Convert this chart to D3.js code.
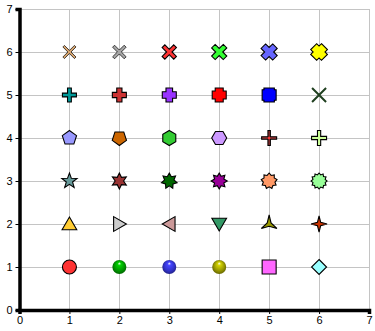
<!DOCTYPE html>
<html>
<head>
<meta charset="utf-8">
<script src="https://cdn.jsdelivr.net/npm/d3@7"></script>
<style>
  body { margin: 0; background: #fff; }
  svg text { font-family: "Liberation Sans", Arial, sans-serif; font-size: 11px; }
</style>
</head>
<body>
<div id="chart"></div>
<script>
// marker catalogue: one entry per point, read row by row from the top
const xValues = [1, 2, 3, 4, 5, 6,  1, 2, 3, 4, 5, 6,  1, 2, 3, 4, 5, 6,  1, 2, 3, 4, 5, 6,  1, 2, 3, 4, 5, 6,  1, 2, 3, 4, 5, 6];
const yValues = [6, 6, 6, 6, 6, 6,  5, 5, 5, 5, 5, 5,  4, 4, 4, 4, 4, 4,  3, 3, 3, 3, 3, 3,  2, 2, 2, 2, 2, 2,  1, 1, 1, 1, 1, 1];
const shapes = [
  'x1', 'x2', 'x3', 'x4', 'x5', 'x6',
  'plus1', 'plus2', 'plus3', 'plus4', 'plus5', 'xline',
  'pentUp', 'pentDown', 'hexV', 'hexH', 'thinCross', 'plusThin',
  'star5', 'star6', 'star7', 'star8', 'star9', 'star12',
  'triUp', 'triRight', 'triLeft', 'triDown', 'tristar', 'star4',
  'circle', 'sphere', 'sphere', 'sphere', 'square', 'diamond'
];
const colors = [
  '#d9a66f', '#a6a6a6', '#ff3333', '#33ff33', '#6666ff', '#ffff00',
  '#009999', '#cc3333', '#9933ff', '#ff0000', '#0000ff', '#1f3f1f',
  '#9999ff', '#cc6600', '#33cc33', '#cc99ff', '#993333', '#ccff99',
  '#669999', '#993333', '#006600', '#990099', '#ff9966', '#99ff99',
  '#ffcc33', '#cccccc', '#cc9999', '#339966', '#999900', '#cc3300',
  '#ff3333', '#009900', '#3333cc', '#999900', '#ff66ff', '#99ffff'
];
const xTicks = [0, 1, 2, 3, 4, 5, 6, 7];
const yTicks = [0, 1, 2, 3, 4, 5, 6, 7];

const width = 375, height = 331;
const margin = { top: 9, right: 6, bottom: 21, left: 19.5 };

const svg = d3.select('#chart').append('svg')
  .attr('width', width)
  .attr('height', height);

const x = d3.scaleLinear().domain([0, 7]).range([margin.left, width - margin.right]);
const y = d3.scaleLinear().domain([0, 7]).range([height - margin.bottom, margin.top]);

// grid
svg.append('g').selectAll('line').data(xTicks.slice(1)).enter().append('line')
  .attr('x1', (d) => Math.round(x(d)) + 0.5).attr('x2', (d) => Math.round(x(d)) + 0.5)
  .attr('y1', y(0)).attr('y2', y(7))
  .attr('stroke', '#c4c4c4');
svg.append('g').selectAll('line').data(yTicks.slice(1)).enter().append('line')
  .attr('y1', (d) => Math.round(y(d)) + 0.5).attr('y2', (d) => Math.round(y(d)) + 0.5)
  .attr('x1', x(0)).attr('x2', x(7))
  .attr('stroke', '#c4c4c4');

// axes
const fmt = d3.format('d');
const xAxis = svg.append('g')
  .attr('transform', `translate(0,${y(0)})`)
  .call(d3.axisBottom(x).tickValues(xTicks).tickFormat(fmt).tickSize(4).tickPadding(2));
const yAxis = svg.append('g')
  .attr('transform', `translate(${x(0)},0)`)
  .call(d3.axisLeft(y).tickValues(yTicks).tickFormat(fmt).tickSize(4).tickPadding(3));
[xAxis, yAxis].forEach((g) => {
  g.select('.domain').attr('stroke', '#000').attr('stroke-width', 3.5);
  g.selectAll('text').attr('fill', '#000').style('font-size', '11px');
  g.selectAll('.tick line').attr('stroke', '#000');
});

// gradients for the glossy balls
const defs = svg.append('defs');
colors.forEach((c, i) => {
  if (shapes[i] !== 'sphere') return;
  const g = defs.append('radialGradient').attr('id', 'ball' + i)
    .attr('cx', '50%').attr('cy', '50%').attr('r', '55%')
    .attr('fx', '50%').attr('fy', '22%');
  g.append('stop').attr('offset', '0%').attr('stop-color', '#ffffff');
  g.append('stop').attr('offset', '22%').attr('stop-color', d3.color(c).brighter(0.9));
  g.append('stop').attr('offset', '65%').attr('stop-color', c);
  g.append('stop').attr('offset', '100%').attr('stop-color', d3.color(c).darker(1.4));
});

const R = 7;
function poly(pts) { return 'M' + pts.map((p) => p[0].toFixed(2) + ',' + p[1].toFixed(2)).join('L') + 'Z'; }
function rotate(pts, a) {
  const c = Math.cos(a), s = Math.sin(a);
  return pts.map(([px, py]) => [px * c - py * s, px * s + py * c]);
}
function plus(a, r) {
  return [[-a, -r], [a, -r], [a, -a], [r, -a], [r, a], [a, a], [a, r], [-a, r], [-a, a], [-r, a], [-r, -a], [-a, -a]];
}
function star(n, outer, inner, start) {
  const pts = [];
  for (let k = 0; k < 2 * n; k++) {
    const rr = k % 2 ? inner : outer;
    const ang = start + k * Math.PI / n;
    pts.push([rr * Math.cos(ang), rr * Math.sin(ang)]);
  }
  return pts;
}
function ngon(n, r, start) { return star(n, r, r, start).filter((_, k) => k % 2 === 0); }
const up = -Math.PI / 2;
const diag = Math.PI / 4;

const shapePath = {
  x1: poly(rotate(plus(1.1, 8.2), diag)),
  x2: poly(rotate(plus(1.4, 8.2), diag)),
  x3: poly(rotate(plus(1.9, 8.2), diag)),
  x4: poly(rotate(plus(2.5, 8.2), diag)),
  x5: poly(rotate(plus(3.2, 8.2), diag)),
  x6: poly(rotate(plus(4.2, 7.6), diag)),
  plus1: poly(plus(1.9, 7)),
  plus2: poly(plus(2.6, 7)),
  plus3: poly(plus(3.3, 7)),
  plus4: poly(plus(4, 7)),
  plus5: poly(plus(5.2, 7)),
  xline: 'M-7,-7L7,7M-7,7L7,-7',
  pentUp: poly(ngon(5, 7.5, up)),
  pentDown: poly(ngon(5, 7.5, -up)),
  hexV: poly(ngon(6, 7.5, up)),
  hexH: poly(ngon(6, 7.5, 0)),
  thinCross: poly(plus(1.2, 7.5)),
  plusThin: poly(plus(1.6, 7.5)),
  star5: poly(star(5, 8, 3.3, up)),
  star6: poly(star(6, 8, 4.2, up)),
  star7: poly(star(7, 8, 4.8, up)),
  star8: poly(star(8, 8, 5, up)),
  star9: poly(star(9, 8, 5.9, up)),
  star12: poly(star(12, 8, 6.3, up)),
  triUp: poly(ngon(3, 8.5, up).map(([a, b]) => [a, b + 1.5])),
  triRight: poly(ngon(3, 8.5, 0).map(([a, b]) => [a - 1.5, b])),
  triLeft: poly(ngon(3, 8.5, Math.PI).map(([a, b]) => [a + 1.5, b])),
  triDown: poly(ngon(3, 8.5, -up).map(([a, b]) => [a, b - 1.5])),
  tristar: poly(star(3, 9, 2.2, up)),
  star4: poly(star(4, 8, 2.3, up)),
  circle: d3.symbol(d3.symbolCircle, Math.PI * 49)(),
  sphere: d3.symbol(d3.symbolCircle, Math.PI * 49)(),
  square: poly([[-7, -7], [7, -7], [7, 7], [-7, 7]]),
  diamond: poly([[0, -7.5], [7.5, 0], [0, 7.5], [-7.5, 0]])
};

const pts = xValues.map((v, i) => ({ x: v, y: yValues[i], shape: shapes[i], color: colors[i], i }));

svg.append('g').selectAll('path').data(pts).enter().append('path')
  .attr('transform', (d) => `translate(${x(d.x)},${y(d.y)})`)
  .attr('d', (d) => shapePath[d.shape])
  .attr('fill', (d) => d.shape === 'xline' ? 'none' : d.shape === 'sphere' ? `url(#ball${d.i})` : d.color)
  .attr('stroke', (d) => d.shape === 'xline' ? d.color : d.shape === 'sphere' ? 'none' : '#000')
  .attr('stroke-width', (d) => d.shape === 'xline' ? 2 : (d.shape === 'x1' || d.shape === 'x2') ? 0.7 : 1.1)
  .attr('stroke-linejoin', 'miter');

// red dot in the middle of the thin cross
svg.append('g').selectAll('circle').data(pts.filter((d) => d.shape === 'thinCross')).enter().append('circle')
  .attr('cx', (d) => x(d.x)).attr('cy', (d) => y(d.y))
  .attr('r', 1.2).attr('fill', '#ff3333');
</script>
</body>
</html>
